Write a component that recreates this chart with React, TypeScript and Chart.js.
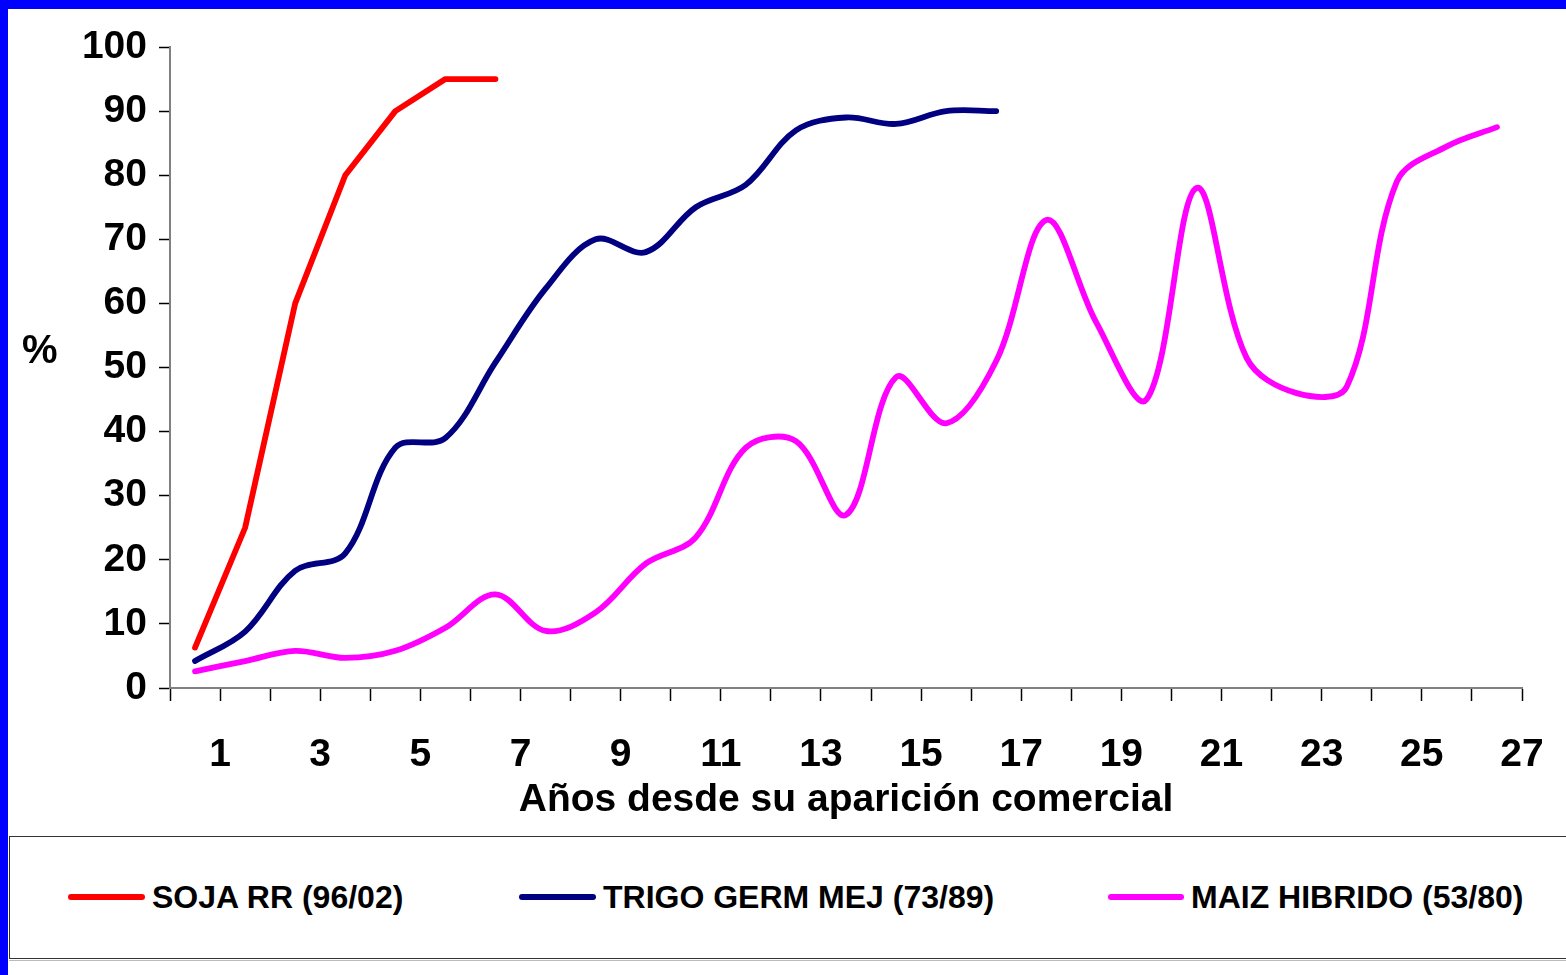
import React, { useEffect, useRef } from 'react';
import { Chart, registerables } from 'chart.js';

Chart.register(...registerables);

// ---- data ----
const years = ['1','2','3','4','5','6','7','8','9','10','11','12','13','14','15','16','17','18','19','20','21','22','23','24','25','26','27'];
const sojaRR = [6.3, 25, 60, 80, 90, 95, 95];
const trigoGermMej = [4.2, 8.8, 18.3, 21, 37.5, 39, 50.8, 62.3, 70, 68, 75, 78.5, 87, 89, 88, 90, 90];
const maizHibrido = [2.6, 4.2, 5.8, 4.7, 5.8, 9.4, 14.6, 8.9, 11.8, 19.4, 23.5, 37.5, 38.5, 27, 48.5, 41.3, 51, 73, 57, 45, 78, 51.5, 46, 47, 79, 84.5, 87.5];
const seriesNames = ['SOJA RR (96/02)', 'TRIGO GERM MEJ (73/89)', 'MAIZ HIBRIDO (53/80)'];
const seriesColors = ['#FF0000', '#000080', '#FF00FF'];
const xTitle = 'Años desde su aparición comercial';
const yTitle = '%';

const FONT = "'Liberation Sans', Arial, sans-serif";

export default function App() {
  const ref = useRef<HTMLCanvasElement | null>(null);

  useEffect(() => {
    if (!ref.current) return;
    const chart = new Chart(ref.current, {
      type: 'line',
      data: {
        labels: years,
        datasets: [
          { label: seriesNames[0], data: sojaRR, borderColor: seriesColors[0], backgroundColor: seriesColors[0], tension: 0 },
          { label: seriesNames[1], data: trigoGermMej, borderColor: seriesColors[1], backgroundColor: seriesColors[1], tension: 0.35 },
          { label: seriesNames[2], data: maizHibrido, borderColor: seriesColors[2], backgroundColor: seriesColors[2], tension: 0.35 },
        ],
      },
      options: {
        animation: false,
        responsive: false,
        maintainAspectRatio: false,
        layout: { padding: { top: 38, right: 44, left: 0, bottom: 0 } },
        plugins: { legend: { display: false }, tooltip: { enabled: false } },
        elements: {
          point: { radius: 0, hoverRadius: 0 },
          line: { borderWidth: 5.8, borderCapStyle: 'round', borderJoinStyle: 'round', fill: false },
        },
        scales: {
          x: {
            type: 'category',
            offset: true,
            grid: { offset: true, drawOnChartArea: false, drawTicks: true, tickLength: 13, tickColor: '#000', tickWidth: 1.5 },
            border: { color: '#808080', width: 2 },
            ticks: {
              autoSkip: false,
              maxRotation: 0,
              minRotation: 0,
              labelOffset: 25,
              padding: 31,
              color: '#000',
              font: { family: FONT, size: 39, weight: 'bold' },
              callback: (_v: any, i: number) => (i % 2 === 0 ? years[i] : ''),
            },
            title: {
              display: true,
              text: xTitle,
              color: '#000',
              font: { family: FONT, size: 39, weight: 'bold' },
              padding: { top: 0, bottom: 11 },
            },
            afterFit: (s: any) => { s.height = 147; },
          },
          y: {
            min: 0,
            max: 100,
            grid: { drawOnChartArea: false, drawTicks: true, tickLength: 11, tickColor: '#000', tickWidth: 1.5 },
            border: { color: '#808080', width: 2 },
            ticks: {
              stepSize: 10,
              padding: 12,
              color: '#000',
              font: { family: FONT, size: 39, weight: 'bold' },
            },
            afterFit: (s: any) => { s.width = 161; },
          },
        },
      },
    });
    return () => chart.destroy();
  }, []);

  const legendItems = [
    { line: 68, text: 152 },
    { line: 519, text: 603 },
    { line: 1108, text: 1191 },
  ];

  return (
    <div style={{ position: 'fixed', left: 0, top: 0, width: 1566, height: 975, background: '#fff', overflow: 'hidden' }}>
      <div style={{ position: 'absolute', left: 0, top: 0, width: 1566, height: 9, background: '#0000FF' }} />
      <div style={{ position: 'absolute', left: 0, top: 0, width: 8, height: 975, background: '#0000FF' }} />
      <div style={{ position: 'absolute', left: 9, top: 9, width: 1557, height: 826 }}>
        <canvas ref={ref} width={1557} height={826} style={{ width: 1557, height: 826, display: 'block' }} />
      </div>
      <div style={{ position: 'absolute', left: 22, top: 329, fontFamily: FONT, fontWeight: 'bold', fontSize: 40, lineHeight: '40px', color: '#000' }}>{yTitle}</div>
      <div style={{ position: 'absolute', left: 9, top: 836, width: 1557, height: 121, borderTop: '1.5px solid #333', borderBottom: '1.5px solid #333', borderLeft: '1.5px solid #333' }} />
      <div style={{ position: 'absolute', left: 9, top: 960, width: 1557, height: 1, background: '#bbb' }} />
      {legendItems.map((it, i) => (
        <React.Fragment key={i}>
          <div style={{ position: 'absolute', left: it.line, top: 894, width: it.text - it.line - 7, height: 5.5, borderRadius: 3, background: seriesColors[i] }} />
          <div style={{ position: 'absolute', left: it.text, top: 881, fontFamily: FONT, fontWeight: 'bold', fontSize: 32, lineHeight: '32px', color: '#000', whiteSpace: 'nowrap' }}>{seriesNames[i]}</div>
        </React.Fragment>
      ))}
    </div>
  );
}
